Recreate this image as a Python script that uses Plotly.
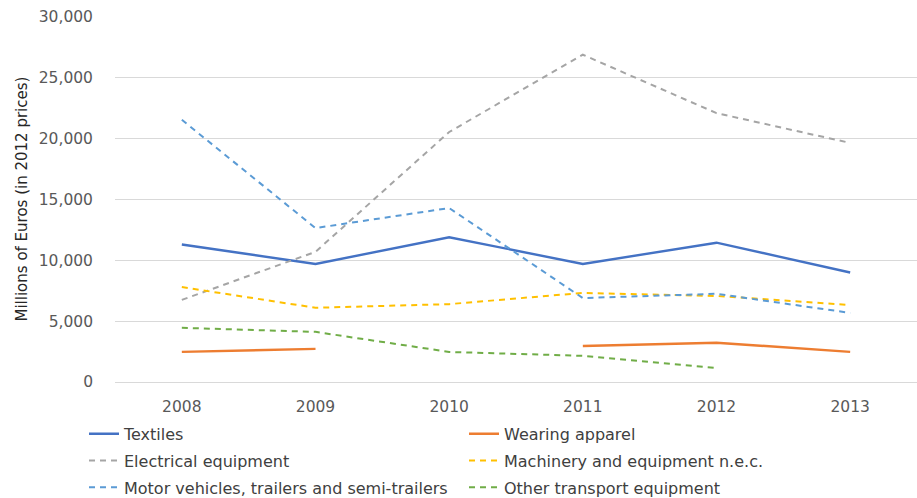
import plotly.graph_objects as go

years = ["2008", "2009", "2010", "2011", "2012", "2013"]

textiles = [11300, 9700, 11900, 9700, 11450, 9000]
wearing_apparel = [2480, 2720, None, 2960, 3230, 2480]
electrical_equipment = [6750, 10700, 20550, 26900, 22100, 19650]
machinery = [7800, 6100, 6400, 7320, 7070, 6330]
motor_vehicles = [21550, 12650, 14300, 6900, 7250, 5680]
other_transport = [4450, 4120, 2470, 2150, 1150, None]

y_title = "Millions of Euros (in 2012 prices)"

# (name, values, colour, dash, width, legend column)
series = [
    ("Textiles", textiles, "#4472C4", "solid", 2.4, "legend"),
    ("Wearing apparel", wearing_apparel, "#ED7D31", "solid", 2.4, "legend2"),
    ("Electrical equipment", electrical_equipment, "#A5A5A5", "6px,5px", 2, "legend"),
    ("Machinery and equipment n.e.c.", machinery, "#FFC000", "6px,5px", 2, "legend2"),
    ("Motor vehicles, trailers and semi-trailers", motor_vehicles, "#5B9BD5", "6px,5px", 2, "legend"),
    ("Other transport equipment", other_transport, "#70AD47", "6px,5px", 2, "legend2"),
]

fig = go.Figure()
for i, (name, vals, color, dash, width, leg) in enumerate(series):
    fig.add_trace(go.Scatter(
        x=years, y=vals, name=name, mode="lines",
        line=dict(color=color, dash=dash, width=width),
        connectgaps=False, legend=leg, legendgroup=f"g{i}",
    ))

font_family = "'DejaVu Sans', 'Open Sans', sans-serif"
legend_style = dict(
    orientation="v", xref="container", yref="container",
    xanchor="left", yanchor="top", y=0.163,
    font=dict(size=16, color="#404040"),
    itemwidth=30, tracegroupgap=3, bgcolor="rgba(0,0,0,0)",
)

fig.update_layout(
    width=917, height=498,
    margin=dict(l=115, r=0, t=17, b=116, autoexpand=False),
    plot_bgcolor="white", paper_bgcolor="white",
    font=dict(family=font_family, color="#595959", size=15),
    xaxis=dict(
        type="category", range=[-0.5, 5.5],
        showgrid=False, zeroline=False, showline=False,
        ticks="", ticklabelstandoff=13,
        tickfont=dict(size=15.5, color="#595959"),
    ),
    yaxis=dict(
        range=[0, 30000], dtick=5000, tickformat=",d",
        showgrid=True, gridcolor="#D9D9D9", gridwidth=1,
        zeroline=True, zerolinecolor="#D9D9D9", zerolinewidth=1,
        showline=False, ticks="", ticklabelstandoff=21,
        tickfont=dict(size=15.5, color="#595959"),
    ),
    annotations=[dict(
        text=y_title, textangle=-90, showarrow=False,
        xref="paper", yref="paper", x=(21 - 115) / 802, y=0.5,
        xanchor="center", yanchor="middle",
        font=dict(size=15, color="#262626"),
    )],
    legend=dict(x=84 / 917, **legend_style),
    legend2=dict(x=464 / 917, **legend_style),
    showlegend=True,
)

fig.write_html("out.html")
